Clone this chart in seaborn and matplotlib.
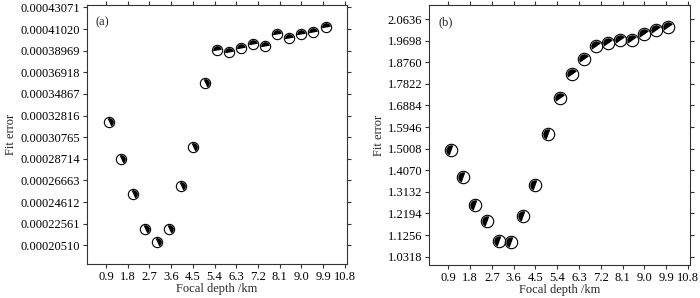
import numpy as np
import pandas as pd
import matplotlib
matplotlib.use("Agg")
import matplotlib.pyplot as plt
from matplotlib.markers import MarkerStyle
from matplotlib.transforms import Affine2D
import seaborn as sns

sns.set_style("ticks")
plt.rcParams['font.family'] = ['Liberation Serif', 'DejaVu Serif']

# Data
depth = [1.0, 1.5, 2.0, 2.5, 3.0, 3.5, 4.0, 4.5, 5.0, 5.5,
         6.0, 6.5, 7.0, 7.5, 8.0, 8.5, 9.0, 9.5, 10.0]
err_a = [0.0003222, 0.0002865, 0.0002537, 0.0002206, 0.0002079, 0.0002206,
         0.0002613, 0.0002985, 0.0003593, 0.0003903, 0.0003887, 0.0003919,
         0.0003957, 0.0003941, 0.0004052, 0.0004014, 0.0004052, 0.0004073,
         0.0004123]
err_b = [1.4930, 1.3762, 1.2546, 1.1851, 1.1000, 1.0957, 1.2098, 1.3414,
         1.5655, 1.7218, 1.8247, 1.8886, 1.9463, 1.9607, 1.9724, 1.9724,
         1.9985, 2.0158, 2.0302]

xticks = [0.9, 1.8, 2.7, 3.6, 4.5, 5.4, 6.3, 7.2, 8.1, 9.0, 9.9, 10.8]
yticks_a = [0.00020510, 0.00022561, 0.00024612, 0.00026663, 0.00028714,
            0.00030765, 0.00032816, 0.00034867, 0.00036918, 0.00038969,
            0.00041020, 0.00043071]
yticks_b = [1.0318, 1.1256, 1.2194, 1.3132, 1.4070, 1.5008, 1.5946,
            1.6884, 1.7822, 1.8760, 1.9698, 2.0636]

df = pd.DataFrame({'depth': depth, 'a': err_a, 'b': err_b})

fig = plt.figure(figsize=(7.0, 2.98), dpi=100)
ax_a = fig.add_axes([0.124, 0.114, 0.372, 0.869])
ax_b = fig.add_axes([0.613, 0.111, 0.373, 0.872])


def half(fill, angle):
    return MarkerStyle('o', fillstyle=fill, transform=Affine2D().rotate_deg(angle))


def beachballs(ax, col, size, styles):
    # white ball with black rim
    sns.scatterplot(data=df, x='depth', y=col, ax=ax, s=size, color='white',
                    edgecolor='black', linewidth=0.8, zorder=3, legend=False)
    # black compressional quadrant
    for (i, row), st in zip(df.iterrows(), styles):
        ax.scatter([row['depth']], [row[col]], s=size * 0.72, marker=st,
                   color='black', linewidth=0, zorder=4)


styles_a = [half('right', 25)] * 9 + [half('top', 10)] * 10
styles_b = [half('left', -20)] * 9 + [half('top', 35)] * 10

beachballs(ax_a, 'a', 55, styles_a)
beachballs(ax_b, 'b', 80, styles_b)

for ax, yt, fmt, lim, tag in [
        (ax_a, yticks_a, '%.8f', (0.0001874, 0.0004329), '(a)'),
        (ax_b, yticks_b, '%.4f', (0.9958, 2.1244), '(b)')]:
    ax.set_xlim(0.1, 10.9)
    ax.set_ylim(*lim)
    ax.set_xticks(xticks)
    ax.set_xticklabels(['%.1f' % v for v in xticks], fontsize=9)
    ax.set_yticks(yt)
    ax.set_yticklabels([fmt % v for v in yt], fontsize=9)
    ax.tick_params(direction='out', length=3, width=0.8, top=True, right=True,
                   pad=2, colors='#333333', labelcolor='black')
    for sp in ax.spines.values():
        sp.set_visible(True)
        sp.set_color('#333333')
        sp.set_linewidth(0.8)
    ax.set_xlabel('Focal depth /km', fontsize=9, labelpad=0)
    ax.set_ylabel('Fit error', fontsize=9, labelpad=2)
    ax.text(0.035, 0.955, tag, transform=ax.transAxes, fontsize=9,
            ha='left', va='top')

fig.savefig('out.png', dpi=100)
